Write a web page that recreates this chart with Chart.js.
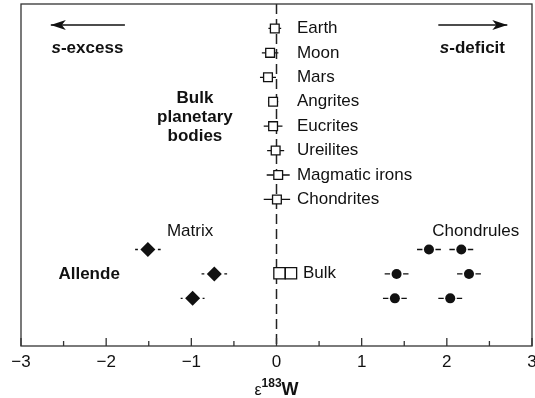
<!DOCTYPE html>
<html>
<head>
<meta charset="utf-8">
<script src="https://cdn.jsdelivr.net/npm/chart.js@4.4.1/dist/chart.umd.min.js"></script>
<style>
  html, body { margin: 0; padding: 0; background: #fff; overflow: hidden; }
  #wrap { width: 535px; height: 398px; }
</style>
</head>
<body>
<div id="wrap"><canvas id="w183" width="535" height="398"></canvas></div>
<script>
/* bulk planetary bodies: row index (top = 1) and e183W with 2 s.d. */
const bodyNames = ["Earth", "Moon", "Mars", "Angrites", "Eucrites", "Ureilites", "Magmatic irons", "Chondrites"];
const bodyRows = [1, 2, 3, 4, 5, 6, 7, 8];
const bodyW = [-0.02, -0.075, -0.10, -0.04, -0.04, -0.01, 0.02, 0.005];
const bodyErr = [0.075, 0.097, 0.094, 0.06, 0.11, 0.10, 0.135, 0.155];

/* Allende components */
const matrixRows = [10.05, 11.05, 12.05];
const matrixW = [-1.51, -0.73, -0.985];
const matrixErr = [0.15, 0.15, 0.14];

const chondruleRows = [10.05, 10.05, 11.05, 11.05, 12.05, 12.05];
const chondruleW = [1.79, 2.17, 1.41, 2.26, 1.39, 2.04];
const chondruleErr = [0.14, 0.14, 0.14, 0.14, 0.14, 0.14];

const bulkRows = [11.02, 11.02];
const bulkW = [0.035, 0.17];

/* axis */
const xMajorTicks = [-3, -2, -1, 0, 1, 2, 3];
const xMinorTicks = [-2.5, -1.5, -0.5, 0.5, 1.5, 2.5];

const FONT = '"Liberation Sans", Arial, Helvetica, sans-serif';
const INK = "#111";

const pts = (xs, ys) => xs.map((x, i) => ({ x, y: ys[i] }));

// horizontal error bars, drawn under the markers; gap = px left clear round the marker
const errorBars = {
  id: "errorBars",
  beforeDatasetsDraw(chart) {
    const { ctx, scales: { x, y } } = chart;
    const sets = [
      { v: bodyW, r: bodyRows, e: bodyErr, gap: 4.4 },
      { v: matrixW, r: matrixRows, e: matrixErr, gap: 10 },
      { v: chondruleW, r: chondruleRows, e: chondruleErr, gap: 6.5 },
    ];
    ctx.save();
    ctx.strokeStyle = INK;
    ctx.lineWidth = 1.3;
    sets.forEach(s => {
      s.v.forEach((v, i) => {
        const px = x.getPixelForValue(v), py = y.getPixelForValue(s.r[i]);
        const lo = x.getPixelForValue(v - s.e[i]), hi = x.getPixelForValue(v + s.e[i]);
        ctx.beginPath();
        if (px - lo > s.gap) { ctx.moveTo(lo, py); ctx.lineTo(px - s.gap, py); }
        if (hi - px > s.gap) { ctx.moveTo(px + s.gap, py); ctx.lineTo(hi, py); }
        ctx.stroke();
      });
    });
    ctx.restore();
  }
};

function arrow(ctx, x1, x2, y, headLeft) {
  ctx.beginPath();
  ctx.moveTo(x1, y); ctx.lineTo(x2, y);
  ctx.stroke();
  const tip = headLeft ? x1 : x2, d = headLeft ? 1 : -1;
  ctx.beginPath();
  ctx.moveTo(tip, y);
  ctx.lineTo(tip + d * 15, y - 5);
  ctx.lineTo(tip + d * 11, y);
  ctx.lineTo(tip + d * 15, y + 5);
  ctx.closePath();
  ctx.fill();
}

// s-excess / s-deficit with italic s
function sLabel(ctx, word, cx, cy) {
  ctx.font = "italic bold 17px " + FONT;
  const w1 = ctx.measureText("s").width;
  ctx.font = "bold 17px " + FONT;
  const w2 = ctx.measureText(word).width;
  const x0 = cx - (w1 + w2) / 2;
  ctx.textAlign = "left";
  ctx.font = "italic bold 17px " + FONT;
  ctx.fillText("s", x0, cy);
  ctx.font = "bold 17px " + FONT;
  ctx.fillText(word, x0 + w1, cy);
}

const frameAndText = {
  id: "frameAndText",
  afterDatasetsDraw(chart) {
    const { ctx, chartArea: a, scales: { x, y } } = chart;
    const X = v => x.getPixelForValue(v), Y = v => y.getPixelForValue(v);
    ctx.save();
    ctx.fillStyle = INK;
    ctx.strokeStyle = "#333";

    // box
    ctx.lineWidth = 1.3;
    ctx.strokeRect(a.left, a.top, a.right - a.left, a.bottom - a.top);

    // inward ticks on the bottom axis
    ctx.beginPath();
    xMajorTicks.forEach(t => { ctx.moveTo(X(t), a.bottom); ctx.lineTo(X(t), a.bottom - 8); });
    xMinorTicks.forEach(t => { ctx.moveTo(X(t), a.bottom); ctx.lineTo(X(t), a.bottom - 5); });
    ctx.stroke();

    ctx.textBaseline = "middle";
    ctx.textAlign = "center";
    ctx.font = "17px " + FONT;
    xMajorTicks.forEach(t => {
      ctx.fillText(t < 0 ? "\u2212" + Math.abs(t) : String(t), X(t), a.bottom + 16);
    });

    // axis title e183W
    ctx.textBaseline = "alphabetic";
    ctx.textAlign = "left";
    const parts = [["\u03b5", "16px " + FONT, 0], ["183", "bold 12px " + FONT, -8], ["W", "bold 18px " + FONT, 0]];
    let tw = 0;
    parts.forEach(p => { ctx.font = p[1]; tw += ctx.measureText(p[0]).width; });
    let tx = X(0) - tw / 2;
    parts.forEach(p => { ctx.font = p[1]; ctx.fillText(p[0], tx, 395 + p[2]); tx += ctx.measureText(p[0]).width; });

    // body names
    ctx.textBaseline = "middle";
    ctx.font = "17px " + FONT;
    bodyNames.forEach((n, i) => ctx.fillText(n, X(0.24), Y(bodyRows[i])));
    ctx.fillText("Bulk", X(0.31), Y(bulkRows[0]));

    ctx.textAlign = "center";
    ctx.fillText("Matrix", X(-1.015), Y(9.29));
    ctx.fillText("Chondrules", X(2.34), Y(9.29));

    ctx.font = "bold 17px " + FONT;
    ["Bulk", "planetary", "bodies"].forEach((s, i) => ctx.fillText(s, X(-0.958), Y(3.85 + i * 0.78)));
    ctx.fillText("Allende", X(-2.2), Y(11.05));

    sLabel(ctx, "-excess", X(-2.22), Y(1.8));
    sLabel(ctx, "-deficit", X(2.3), Y(1.8));

    ctx.strokeStyle = INK;
    ctx.lineWidth = 1.5;
    arrow(ctx, X(-2.65), X(-1.78), Y(0.86), true);
    arrow(ctx, X(1.9), X(2.71), Y(0.86), false);
    ctx.restore();
  }
};

new Chart(document.getElementById("w183"), {
  type: "scatter",
  data: {
    datasets: [
      {
        label: "Bulk planetary bodies",
        data: pts(bodyW, bodyRows),
        pointStyle: "rect", pointRadius: 6.2,
        backgroundColor: "#fff", borderColor: INK, borderWidth: 1.3,
      },
      {
        label: "Allende bulk",
        data: pts(bulkW, bulkRows),
        pointStyle: "rect", pointRadius: 8,
        backgroundColor: "#fff", borderColor: INK, borderWidth: 1.3,
      },
      {
        label: "Matrix",
        data: pts(matrixW, matrixRows),
        pointStyle: "rectRot", pointRadius: 7.5,
        backgroundColor: INK, borderWidth: 0,
      },
      {
        label: "Chondrules",
        data: pts(chondruleW, chondruleRows),
        pointStyle: "circle", pointRadius: 5,
        backgroundColor: INK, borderWidth: 0,
      },
      {
        label: "zero",
        data: [{ x: 0, y: 0 }, { x: 0, y: 14 }],
        showLine: true, pointRadius: 0,
        borderColor: "#222", borderWidth: 1.5, borderDash: [10, 5],
        order: 10,
      },
    ]
  },
  options: {
    responsive: false,
    animation: false,
    layout: { autoPadding: false, padding: { left: 21, right: 3, top: 4, bottom: 52 } },
    plugins: { legend: { display: false }, tooltip: { enabled: false } },
    scales: {
      x: { type: "linear", min: -3, max: 3, display: false },
      y: { type: "linear", min: 0, max: 14, reverse: true, display: false },
    }
  },
  plugins: [errorBars, frameAndText]
});
</script>
</body>
</html>
